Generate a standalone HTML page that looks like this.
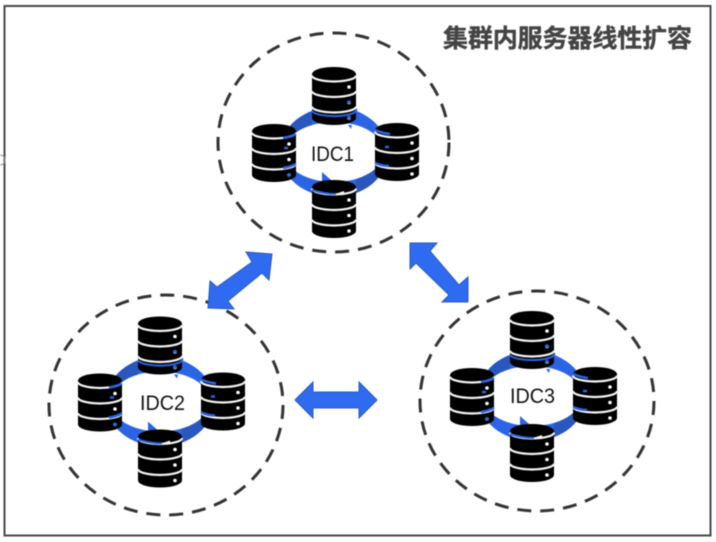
<!DOCTYPE html>
<html><head><meta charset="utf-8"><style>
html,body{margin:0;padding:0;background:#fff;width:716px;height:542px;overflow:hidden}
svg{display:block;filter:blur(.5px)}
</style></head><body>
<svg width="716" height="542" viewBox="0 0 716 542" xmlns="http://www.w3.org/2000/svg">
<defs>
<clipPath id="darkparts"><rect x="-56" y="-50" width="34" height="50"/><rect x="22" y="0" width="34" height="50"/></clipPath>
<path id="ring" fill-rule="evenodd" d="M-54 0A54 45 0 0 1 54 0A54 45 0 0 1 -54 0ZM-50 0A50 30 0 0 0 50 0A50 30 0 0 0 -50 0Z"/>
<g id="db">
<path d="M0 7A22 7 0 0 1 44 7V51A22 7 0 0 1 0 51Z" fill="#000"/>
<path d="M0 8.500A22 6 0 0 0 44 8.500M0 24A22 6 0 0 0 44 24M0 39.500A22 6 0 0 0 44 39.500" fill="none" stroke="#f4f4f4" stroke-width="2.200"/>
<circle cx="37" cy="20" r="1.800" fill="#fff"/><circle cx="37" cy="35.500" r="1.800" fill="#fff"/><circle cx="37" cy="51" r="1.800" fill="#fff"/>
</g>
<g id="cluster">
<use href="#ring" fill="#2b65e6"/>
<use href="#ring" fill="#2a57bd" clip-path="url(#darkparts)"/>
<path d="M-12 20L-3 28L-12 30Z" fill="#2b65e6"/>
<use href="#db" x="-22" y="-85"/>
<use href="#db" x="-82" y="-28"/>
<use href="#db" x="41" y="-29"/>
<use href="#db" x="-22" y="28"/>
<path d="M14 -27L18 -27L17 -23Z" fill="#2b65e6"/>
<path d="M-22 -41A22 6 0 0 0 22 -43" fill="none" stroke="#2b65e6" stroke-width="2"/>
<circle cx="15" cy="-50" r="1.800" fill="#2b65e6"/><circle cx="15" cy="-34.500" r="1.800" fill="#2b65e6"/>
<path d="M-51 -14Q-44 -15 -38 -18M-51 16Q-44 15 -38 12" fill="none" stroke="#2b65e6" stroke-width="2.500"/>
<path d="M-50 -4H-46" stroke="#2b65e6" stroke-width="2.500"/>
<circle cx="-45" cy="23" r="1.800" fill="#2b65e6"/>
<path d="M41 -22Q48 -19 56 -18M41 11Q48 14 55 14" fill="none" stroke="#2b65e6" stroke-width="2.500"/>
<path d="M51 -5H55" stroke="#2b65e6" stroke-width="2.500"/>
<path d="M-22 38Q-10 42 2 42" fill="none" stroke="#2b65e6" stroke-width="2"/>
<path d="M1 42L10 39L10 42Z" fill="#f4f4f4"/>
</g>
</defs>

<rect width="716" height="542" fill="#fff"/>
<rect x="4.500" y="6" width="706" height="529.500" fill="none" stroke="#484848" stroke-width="2"/>
<path d="M0 155A5 5 0 0 1 0 165" fill="none" stroke="#999" stroke-width="1"/>

<g fill="none" stroke="#333" stroke-width="3" stroke-dasharray="14 9">
<ellipse cx="333.500" cy="142.500" rx="115.500" ry="109.500"/>
<ellipse cx="166" cy="405" rx="117" ry="110"/>
<ellipse cx="537" cy="401" rx="117" ry="110"/>
</g>

<g fill="#2f6bf0" stroke="#2a57bd" stroke-width="1">
<polygon points="295,400 313,382 313,392 359,392 359,382 377,400 359,418 359,408 313,408 313,418"/>
<polygon points="272,254 246,252 252,262 217,287 210,281 208,308 234,309 228,301 262,273 269,280"/>
<polygon points="410,243 437,243 430,251 459,285 468,277 468,302 442,302 449,295 416,263 410,269"/>
</g>

<use href="#cluster" x="334" y="152"/>
<use href="#cluster" x="160" y="401.500"/>
<use href="#cluster" x="532" y="396"/>

<g font-family="'Liberation Sans','Noto Sans CJK SC',sans-serif" font-size="21" fill="#111">
<text x="311" y="161" textLength="43" lengthAdjust="spacingAndGlyphs">IDC1</text>
<text x="140" y="410" textLength="45" lengthAdjust="spacingAndGlyphs">IDC2</text>
<text x="510" y="403" textLength="45" lengthAdjust="spacingAndGlyphs">IDC3</text>
</g>
<text x="443" y="47" font-family="'Liberation Sans','Noto Sans CJK SC',sans-serif" font-size="25" font-weight="700" fill="#444" stroke="#444" stroke-width=".4" textLength="249">集群内服务器线性扩容</text>
</svg>
</body></html>
